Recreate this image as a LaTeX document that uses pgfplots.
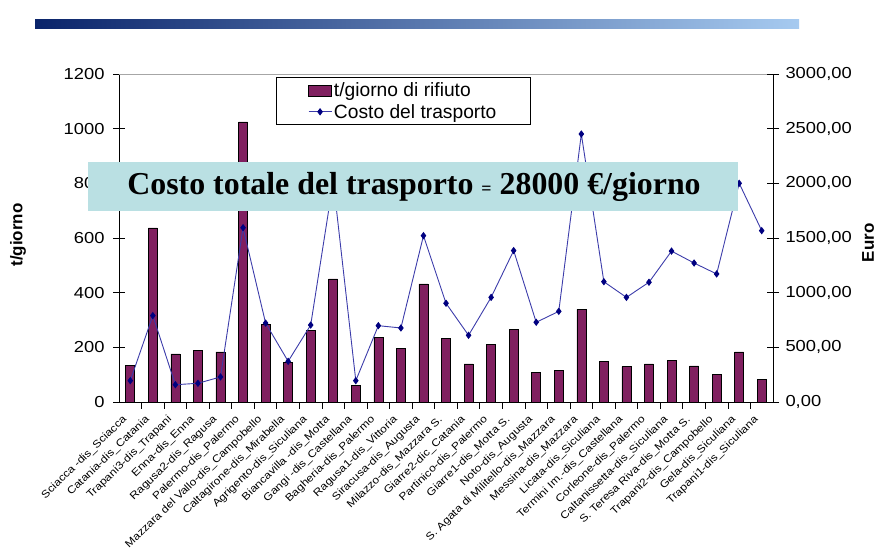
\documentclass[border=0pt]{standalone}
\usepackage{pgfplots}
\pgfplotsset{compat=1.18}
\usepackage{pgfplotstable}
\usepackage{fontspec}
\setmainfont{Liberation Sans}
\newfontfamily\tickfont{Liberation Sans}[FakeStretch=1.15]
\newfontfamily\titlefont{Liberation Serif}
\definecolor{barcol}{RGB}{128,32,96}
\definecolor{linecol}{RGB}{60,60,170}
\definecolor{markcol}{RGB}{0,0,128}
\definecolor{boxcol}{RGB}{186,224,227}

\pgfplotstableread{
idx t euro
1 133 195
2 637 790
3 176 158
4 190 171
5 183 229
6 1025 1594
7 285 722
8 145 372
9 262 704
10 450 2020
11 62 195
12 237 698
13 196 677
14 432 1521
15 234 903
16 139 610
17 210 957
18 265 1385
19 109 729
20 116 829
21 339 2451
22 149 1100
23 129 957
24 139 1095
25 152 1380
26 132 1271
27 101 1171
28 183 2000
29 84 1567
}\data

\pgfplotsset{
  common/.style={
    at={(119bp,154bp)}, anchor=south west,
    scale only axis, width=654bp, height=328bp,
    xmin=0.5, xmax=29.5,
    tick align=center, major tick length=12bp,
    axis line style={black, line width=0.8bp},
    tick style={black, line width=0.8bp},
    /pgf/number format/assume math mode=true,
    y tick label style={font=\tickfont\fontsize{16}{16}\selectfont},
  },
  mylinelegend/.style={legend image code/.code={\draw[##1, mark repeat=2, mark phase=2] plot coordinates {(0bp,0bp) (11.5bp,0bp) (23bp,0bp)};}},
}

\begin{document}
\begin{tikzpicture}[x=1bp,y=1bp]
\useasboundingbox (0,0) rectangle (879,556);
\shade[left color={rgb,255:red,10;green,36;blue,106}, right color={rgb,255:red,166;green,202;blue,240}] (35,527) rectangle (799,536);

\begin{axis}[common,
  ymin=0, ymax=1200,
  axis x line*=bottom, axis y line*=left,
  ytick={0,200,...,1200},
  /pgf/number format/1000 sep={},
  xtick={1,...,29},
  major x tick style={draw=none},
  minor xtick={1.5,2.5,...,28.5},
  minor x tick style={black, line width=0.8bp, yshift=-3.5bp},
  minor tick length=7bp,
  xticklabels={Sciacca -dis\_Sciacca, Catania-dis\_Catania, Trapani3-dis\_Trapani, Enna-dis\_Enna, Ragusa2-dis\_Ragusa, Palermo-dis\_Palermo, Mazzara del Vallo-dis\_Campobello, Caltagirone-dis\_Mirabella, Agrigento-dis\_Siculiana, Biancavilla -dis\_Motta, Gangi -dis\_Castellana, Bagheria-dis\_Palermo, Ragusa1-dis\_Vittoria, Siracusa-dis\_Augusta, Milazzo-dis\_Mazzara S., Giarre2-dic\_Catania, Partinico-dis\_Palermo, Giarre1-dis\_Motta S., Noto-dis\_Augusta, S. Agata di Militello-dis\_Mazzara, Messina-dis\_Mazzara, Licata-dis\_Siculiana, Termini Im.-dis\_Castellana, Corleone-dis\_Palermo, Caltanissetta-dis\_Siculiana, S. Teresa Riva-dis\_Motta S., Trapani2-dis\_Campobello, Gela-dis\_Siculiana, Trapani1-dis\_Siculiana},
  x tick label style={font=\tickfont\fontsize{10.5}{10.5}\selectfont, xshift=-5bp, yshift=-10bp, rotate=44, anchor=east, inner sep=0pt},
  y tick label style={xshift=-5bp},
  ylabel={t/giorno},
  every axis y label/.style={at={(axis description cs:-0.1544,0.509)}, anchor=center, rotate=90, font=\bfseries\fontsize{17}{17}\selectfont},
]
\draw[gray!70, line width=0.8bp] (rel axis cs:0,1) -- (rel axis cs:1,1);
\addplot[ybar, bar width=9bp, fill=barcol, draw=black, line width=0.6bp] table[x=idx,y=t]{\data};
\end{axis}

\begin{axis}[common,
  ymin=0, ymax=3000,
  axis y line*=right, axis x line=none,
  ytick={0,500,...,3000},
  /pgf/number format/.cd, fixed, fixed zerofill, precision=2, use comma, 1000 sep={},
  /pgfplots/.cd,
  y tick label style={xshift=3bp},
  ylabel={Euro},
  every axis y label/.style={at={(axis description cs:1.1453,0.485)}, anchor=center, rotate=90, font=\bfseries\fontsize{17}{17}\selectfont},
  legend style={at={(0.2396,0.99)}, anchor=north west, draw=black, line width=0.8bp, fill=white,
    font=\fontsize{19.3}{21}\selectfont, inner xsep=32bp, inner ysep=3bp, row sep=2bp,
    /tikz/every even column/.append style={column sep=5bp}},
  legend cell align=left,
]
\addlegendimage{legend image code/.code={\draw[fill=barcol,draw=black,line width=0.6bp] (0bp,-5.5bp) rectangle (23bp,5.5bp);}}
\addlegendentry{t/giorno di rifiuto}
\addplot[linecol, line width=0.9bp, mark=diamond*, mark size=3bp, mark options={fill=markcol, draw=markcol}, mylinelegend]
  table[x=idx,y=euro]{\data};
\addlegendentry{Costo del trasporto}
\end{axis}

\fill[boxcol] (88,345) rectangle (738,394);
\node[font=\titlefont\bfseries\fontsize{32}{32}\selectfont, inner sep=0pt] at (414,369.5) {Costo totale del trasporto {\fontsize{18}{18}\selectfont =} 28000 €/giorno};
\end{tikzpicture}
\end{document}
